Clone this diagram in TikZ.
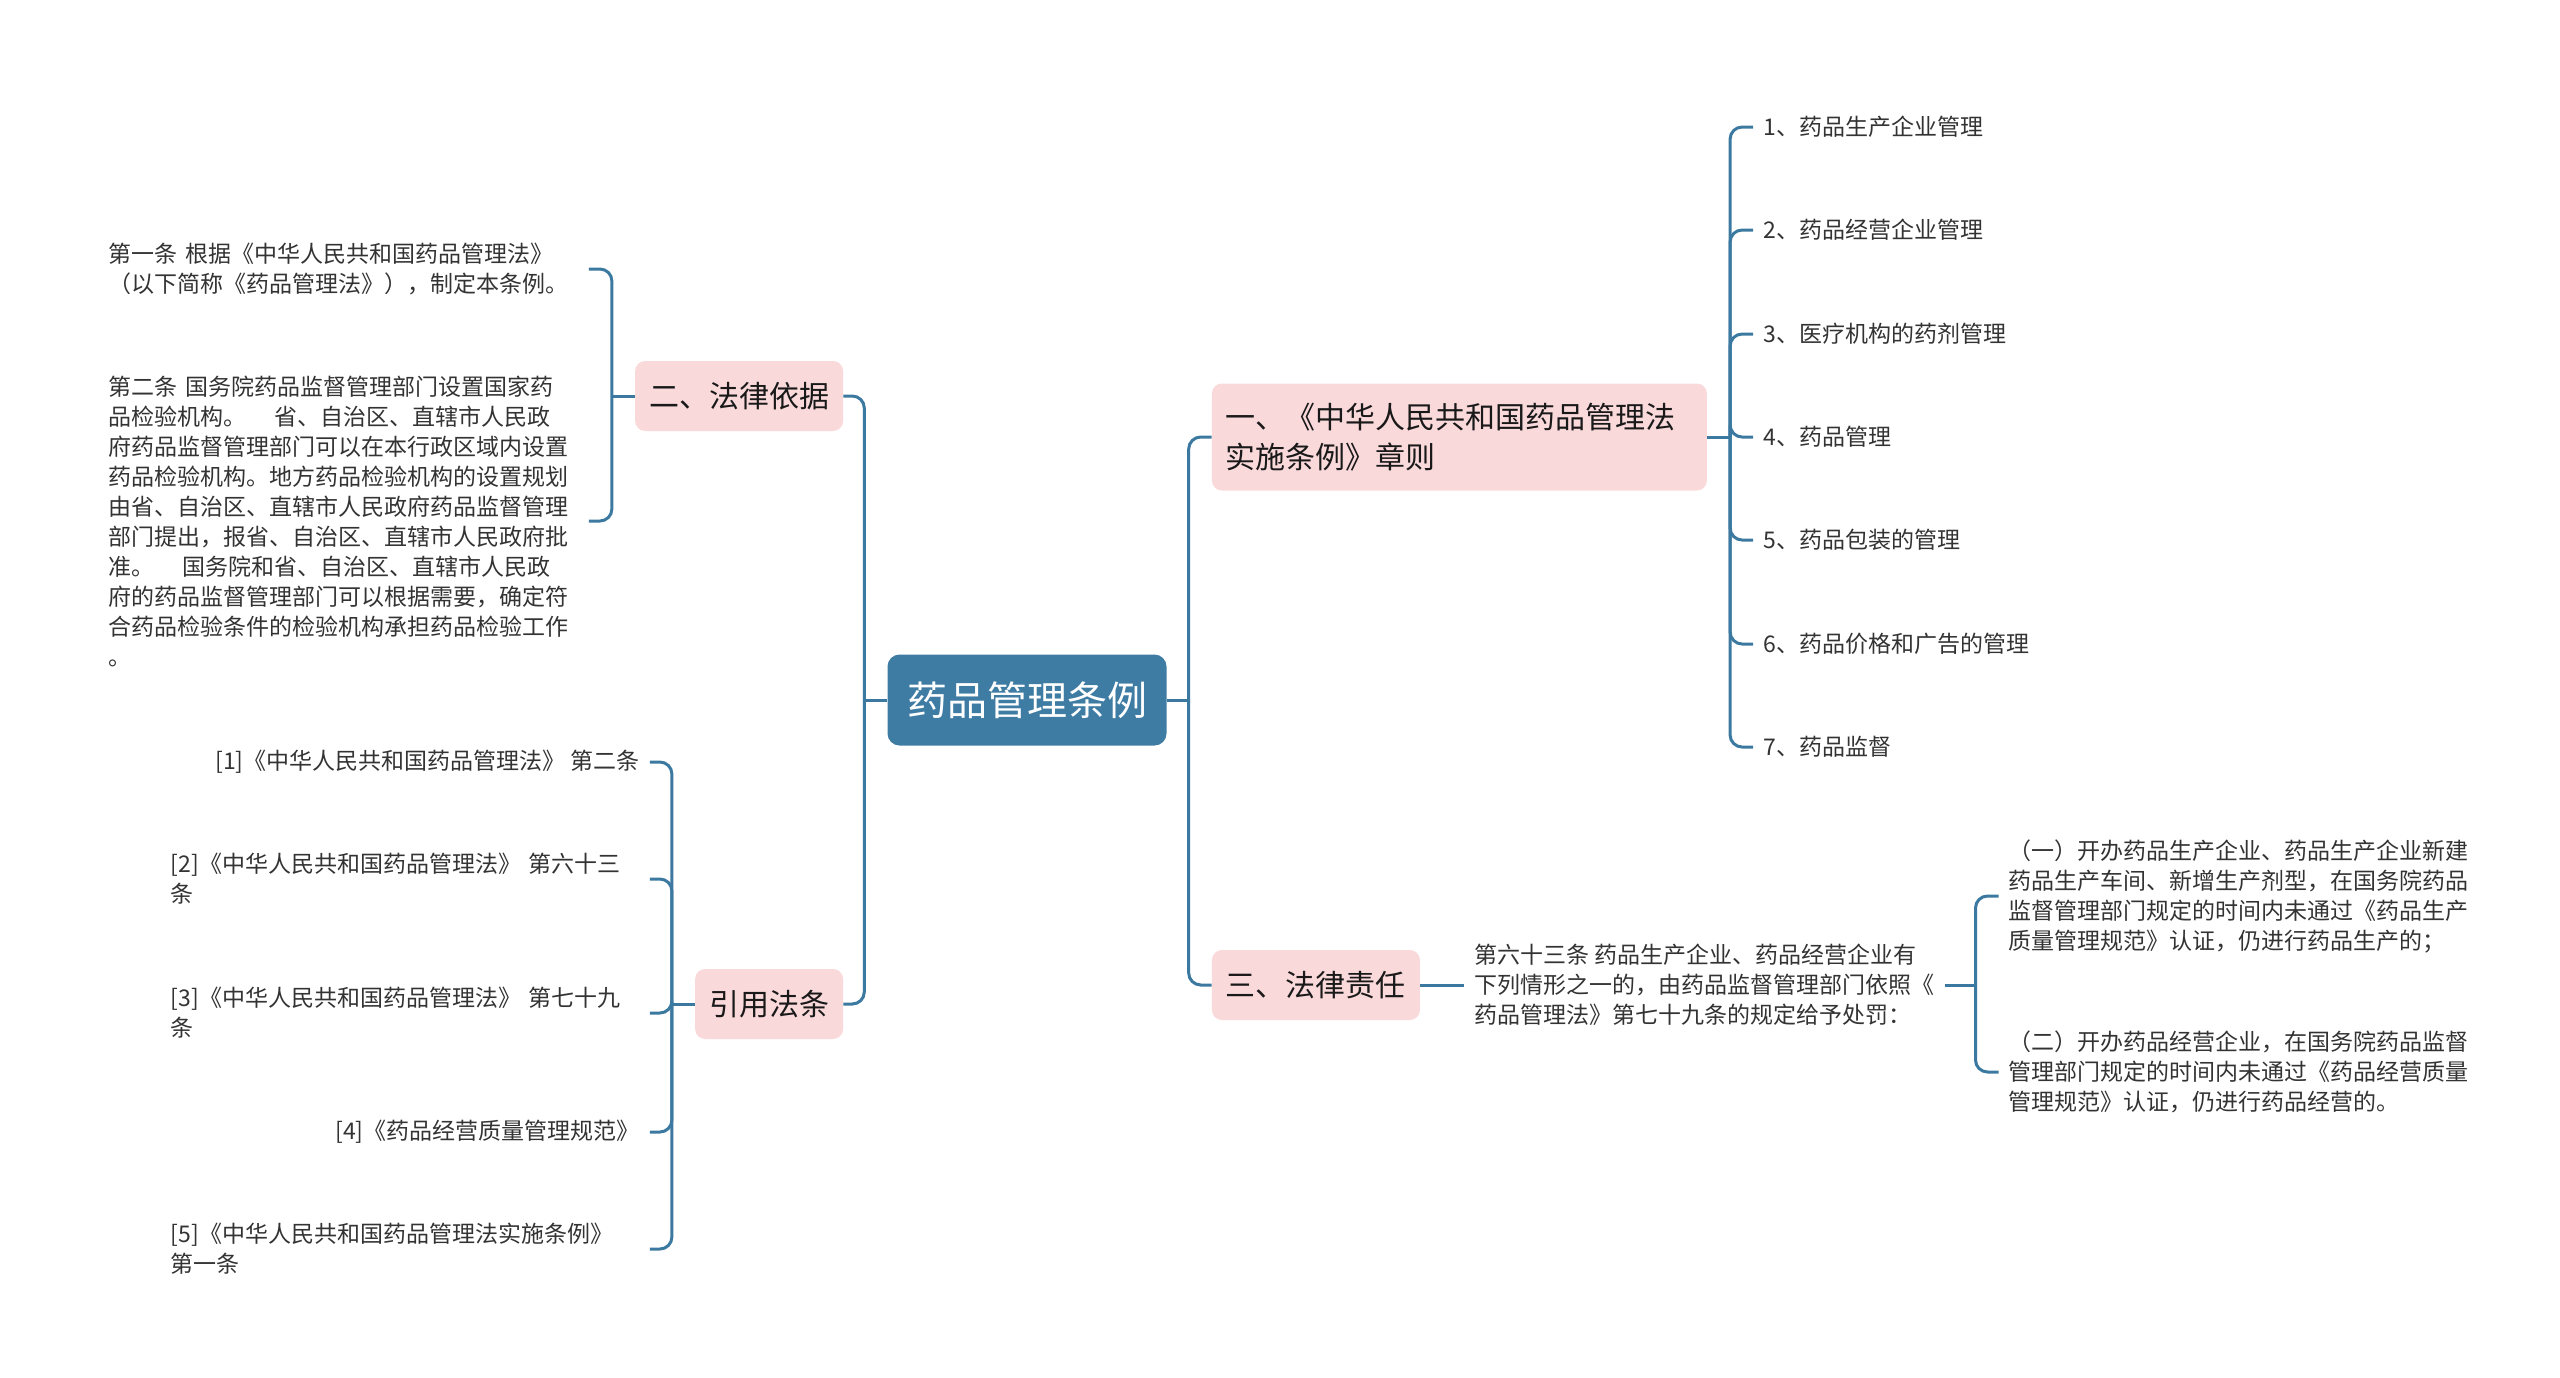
\documentclass[tikz,border=0pt]{standalone}
\usepackage{fontspec}
\setmainfont{Noto Sans CJK SC}
\usetikzlibrary{positioning}
\definecolor{mainblue}{RGB}{62,124,164}
\definecolor{lineblue}{RGB}{60,121,160}
\definecolor{topicpink}{RGB}{250,217,219}
\definecolor{leafgray}{RGB}{51,51,51}
\tikzset{
  mainbox/.style={fill=mainblue, text=white, rounded corners=12pt, font=\fontsize{40}{48}\selectfont, inner xsep=19.5pt, minimum height=91pt},
  topicbox/.style={fill=topicpink, text=black!90, rounded corners=10pt, font=\fontsize{30}{40}\selectfont, inner xsep=14pt, minimum height=70pt},
  leafbox/.style={text=leafgray, font=\fontsize{23}{30}\selectfont, inner xsep=10pt, inner ysep=4pt, align=left},
  branchline/.style={draw=lineblue, line width=3pt, rounded corners=12pt}
}

\begin{document}
\begin{tikzpicture}[x=1pt, y=-1pt]
  \useasboundingbox (0,0) rectangle (2560,1377);
  % Nodes
  \node (main) [mainbox] at (1027,700) {药品管理条例};
  \node (basis) [topicbox, left=44pt of main, yshift=304pt] {二、法律依据};
  \node (cited) [topicbox, left=44pt of main, yshift=-304pt] {引用法条};
  \node (rules) [topicbox, right=45pt of main, yshift=263pt, text width=467pt, align=left, minimum height=107pt] {一、《中华人民共和国药品管理法\\实施条例》章则};
  \node (liab) [topicbox, right=45pt of main, yshift=-285pt] {三、法律责任};

  \node (art1) [leafbox, text width=470pt, left=46pt of basis, yshift=127pt] {第一条 根据《中华人民共和国药品管理法》\\（以下简称《药品管理法》），制定本条例。};
  \node (art2) [leafbox, text width=470pt, left=46pt of basis, yshift=-125pt] {第二条 国务院药品监督管理部门设置国家药\\品检验机构。\hspace{1.2em}省、自治区、直辖市人民政\\府药品监督管理部门可以在本行政区域内设置\\药品检验机构。地方药品检验机构的设置规划\\由省、自治区、直辖市人民政府药品监督管理\\部门提出，报省、自治区、直辖市人民政府批\\准。\hspace{1.2em}国务院和省、自治区、直辖市人民政\\府的药品监督管理部门可以根据需要，确定符\\合药品检验条件的检验机构承担药品检验工作\\。};

  \node (ref1) [leafbox, left=45pt of cited, yshift=242pt] {[1]《中华人民共和国药品管理法》 第二条};
  \node (ref2) [leafbox, text width=469pt, left=45pt of cited, yshift=125pt] {[2]《中华人民共和国药品管理法》 第六十三\\条};
  \node (ref3) [leafbox, text width=469pt, left=45pt of cited, yshift=-9pt] {[3]《中华人民共和国药品管理法》 第七十九\\条};
  \node (ref4) [leafbox, left=45pt of cited, yshift=-128pt] {[4]《药品经营质量管理规范》};
  \node (ref5) [leafbox, text width=469pt, left=45pt of cited, yshift=-245pt] {[5]《中华人民共和国药品管理法实施条例》\\第一条};

  \node (ch1) [leafbox, right=46pt of rules, yshift=310pt] {1、药品生产企业管理};
  \node (ch2) [leafbox, right=46pt of rules, yshift=207pt] {2、药品经营企业管理};
  \node (ch3) [leafbox, right=46pt of rules, yshift=103pt] {3、医疗机构的药剂管理};
  \node (ch4) [leafbox, right=46pt of rules] {4、药品管理};
  \node (ch5) [leafbox, right=46pt of rules, yshift=-103pt] {5、药品包装的管理};
  \node (ch6) [leafbox, right=46pt of rules, yshift=-207pt] {6、药品价格和广告的管理};
  \node (ch7) [leafbox, right=46pt of rules, yshift=-310pt] {7、药品监督};

  \node (art63) [leafbox, right=44pt of liab] {第六十三条 药品生产企业、药品经营企业有\\下列情形之一的，由药品监督管理部门依照《\\药品管理法》第七十九条的规定给予处罚：};
  \node (case1) [leafbox, text width=470pt, right=54pt of art63, yshift=89pt] {（一）开办药品生产企业、药品生产企业新建\\药品生产车间、新增生产剂型，在国务院药品\\监督管理部门规定的时间内未通过《药品生产\\质量管理规范》认证，仍进行药品生产的；};
  \node (case2) [leafbox, text width=470pt, right=54pt of art63, yshift=-87pt] {（二）开办药品经营企业，在国务院药品监督\\管理部门规定的时间内未通过《药品经营质量\\管理规范》认证，仍进行药品经营的。};

  % Forks
  \coordinate (mainL) at ([xshift=-23pt]main.west);
  \coordinate (mainR) at ([xshift=22pt]main.east);
  \coordinate (basisF) at ([xshift=-23pt]basis.west);
  \coordinate (citedF) at ([xshift=-23pt]cited.west);
  \coordinate (rulesF) at ([xshift=23pt]rules.east);
  \coordinate (art63F) at ([xshift=31pt]art63.east);

  \draw[branchline] (main.west) -- (mainL);
  \draw[branchline] (mainL) |- (basis.east);
  \draw[branchline] (mainL) |- (cited.east);
  \draw[branchline] (main.east) -- (mainR);
  \draw[branchline] (mainR) |- (rules.west);
  \draw[branchline] (mainR) |- (liab.west);

  \draw[branchline] (basis.west) -- (basisF);
  \draw[branchline] (basisF) |- (art1.east);
  \draw[branchline] (basisF) |- (art2.east);

  \draw[branchline] (cited.west) -- (citedF);
  \draw[branchline] (citedF) |- (ref1.east);
  \draw[branchline] (citedF) |- (ref2.east);
  \draw[branchline] (citedF) |- (ref3.east);
  \draw[branchline] (citedF) |- (ref4.east);
  \draw[branchline] (citedF) |- (ref5.east);

  \draw[branchline] (rules.east) -- (rulesF);
  \draw[branchline] (rulesF) |- (ch1.west);
  \draw[branchline] (rulesF) |- (ch2.west);
  \draw[branchline] (rulesF) |- (ch3.west);
  \draw[branchline] (rulesF) |- (ch4.west);
  \draw[branchline] (rulesF) |- (ch5.west);
  \draw[branchline] (rulesF) |- (ch6.west);
  \draw[branchline] (rulesF) |- (ch7.west);

  \draw[branchline] (liab.east) -- (art63.west);
  \draw[branchline] (art63.east) -- (art63F);
  \draw[branchline] (art63F) |- (case1.west);
  \draw[branchline] (art63F) |- (case2.west);
\end{tikzpicture}
\end{document}
